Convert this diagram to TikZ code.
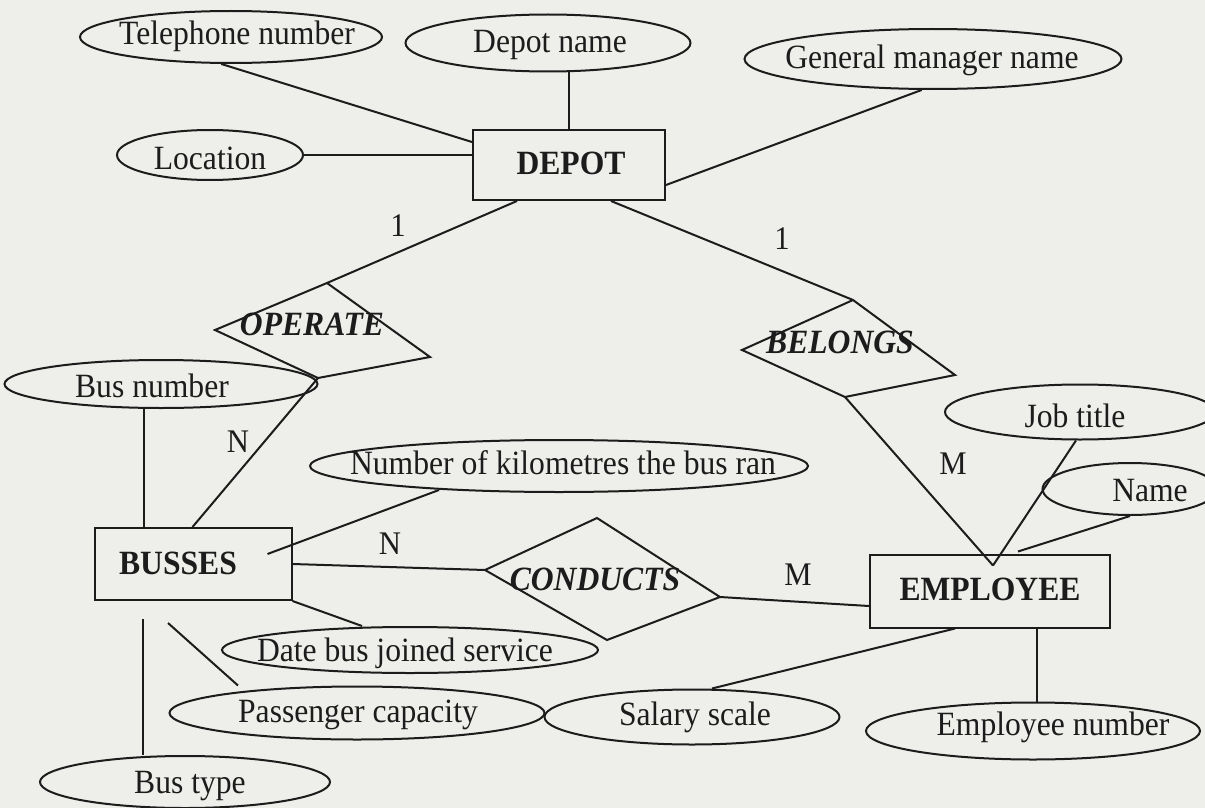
\documentclass[tikz,border=0pt]{standalone}
\usepackage{fontspec}
\setmainfont{Liberation Serif}[FakeStretch=0.93]
\usetikzlibrary{calc,shapes.geometric}
\definecolor{paper}{HTML}{EEEEEB}
\definecolor{ink}{HTML}{1C1C1C}
\begin{document}
\begin{tikzpicture}[x=1pt,y=-1pt,
  conn/.style={draw=ink, line width=2pt},
  attr/.style={draw=ink, ellipse, inner sep=0pt, line width=2pt},
  ent/.style={draw=ink, rectangle, inner sep=0pt, line width=2pt},
  txt/.style={inner sep=0pt, text=ink, font=\fontsize{34}{40}\selectfont},
  enttxt/.style={txt, font=\fontsize{34}{40}\selectfont\bfseries},
  reltxt/.style={txt, font=\fontsize{34}{40}\selectfont\bfseries\itshape},
  card/.style={txt, font=\fontsize{33}{39}\selectfont}]
\fill[paper] (0,0) rectangle (1205,808);
\useasboundingbox (0,0) rectangle (1205,808);

% ---------- attribute ellipses ----------
\node[attr, minimum width=302, minimum height=52] (tel) at (231,37) {};
\node[attr, minimum width=285, minimum height=57] (dep) at (548,43) {};
\node[attr, minimum width=377, minimum height=60] (gm) at (933,59) {};
\node[attr, minimum width=186, minimum height=50] (loc) at (210,155) {};
\node[attr, minimum width=313, minimum height=48] (busno) at (161,384) {};
\node[attr, minimum width=270, minimum height=55] (job) at (1080,412) {};
\node[attr, minimum width=175, minimum height=52] (name) at (1130,489) {};
\node[attr, minimum width=498, minimum height=52] (km) at (559,466) {};
\node[attr, minimum width=376, minimum height=46] (date) at (410,650) {};
\node[attr, minimum width=375, minimum height=53] (pass) at (357,713) {};
\node[attr, minimum width=295, minimum height=55] (sal) at (692,717) {};
\node[attr, minimum width=334, minimum height=57] (empno) at (1033,731) {};
\node[attr, minimum width=290, minimum height=52] (bustype) at (185,782) {};

% ---------- entities ----------
\node[ent, minimum width=192, minimum height=70] (depot) at (569,165) {};
\node[ent, minimum width=197, minimum height=72] (busses) at (193,564) {};
\node[ent, minimum width=240, minimum height=73] (employee) at (990,591) {};

% ---------- relationship diamonds ----------
\coordinate (opL) at (215,330); \coordinate (opT) at (327,283);
\coordinate (opR) at (430,357); \coordinate (opB) at (318,378);
\coordinate (beL) at (742,350); \coordinate (beT) at (853,300);
\coordinate (beR) at (955,375); \coordinate (beB) at (845,397);
\coordinate (coL) at (485,570); \coordinate (coT) at (597,518);
\coordinate (coR) at (720,597); \coordinate (coB) at (607,640);
\draw[conn] (opL) -- (opT) -- (opR) -- (opB) -- cycle;
\draw[conn] (beL) -- (beT) -- (beR) -- (beB) -- cycle;
\draw[conn] (coL) -- (coT) -- (coR) -- (coB) -- cycle;

% ---------- texts ----------
\node[txt] (t1) at (237,36) {Telephone number};
\node[txt] (t2) at (550,45) {Depot name};
\node[txt] (t3) at (932,60) {General manager name};
\node[txt] (t4) at (210,158) {Location};
\node[enttxt] (t5) at (571,163) {DEPOT};
\node[reltxt] (t6) at (312,324) {OPERATE};
\node[reltxt] (t7) at (840,342) {BELONGS};
\node[txt] (t8) at (152,386) {Bus number};
\node[txt] (t9) at (1075,416) {Job title};
\node[txt] (t10) at (1150,491) {Name};
\node[txt] (t11) at (563,463) {Number of kilometres the bus ran};
\node[enttxt] (t12) at (178,563) {BUSSES};
\node[reltxt] (t13) at (595,579) {CONDUCTS};
\node[enttxt] (t14) at (990,589) {EMPLOYEE};
\node[txt] (t15) at (405,653) {Date bus joined service};
\node[txt] (t16) at (358,715) {Passenger capacity};
\node[txt] (t17) at (695,717) {Salary scale};
\node[txt] (t18) at (1053,727) {Employee number};
\node[txt] (t19) at (190,786) {Bus type};

% ---------- cardinalities ----------
\node[card] (c1) at (398,226) {1};
\node[card] (c2) at (782,239) {1};
\node[card] (c3) at (238,442) {N};
\node[card] (c4) at (953,464) {M};
\node[card] (c5) at (390,544) {N};
\node[card] (c6) at (798,575) {M};

% ---------- connectors ----------
\draw[conn] (tel.250) -- ($(depot.north west)+(0,13)$);
\draw[conn] (depot.north) -- (depot.north |- dep.south);
\draw[conn] (loc.east) -- (loc.east -| depot.west);
\draw[conn] (gm.250) -- ($(depot.east)+(0,20)$);
\draw[conn] ($(depot.south west)+(45,0)$) -- (opT);
\draw[conn] ($(depot.south east)+(-55,0)$) -- (beT);

\coordinate (bnB) at ($(busses.north west)+(50,0)$);
\draw[conn] (bnB |- busno.south) -- (bnB);
\draw[conn] (opB) -- ($(busses.north east)+(-100,0)$);
\draw[conn] ($(km.south)+(-120,-3)$) -- ($(busses.east)+(-25,-10)$);
\draw[conn] (busses.east) -- (coL);
\draw[conn] (coR) -- ($(employee.west)+(0,15)$);

\coordinate (empJ) at ($(employee.north)+(3,12)$);
\draw[conn] (beB) -- (empJ);
\draw[conn] (job.262) -- (empJ);
\draw[conn] (name.south) -- ($(employee.north)+(28,-2)$);
\draw[conn] ($(employee.south)+(-35,0)$) -- ($(sal.north)+(20,0)$);
\coordinate (enT) at ($(employee.south)+(47,0)$);
\draw[conn] (enT) -- (enT |- empno.north);

\draw[conn] (busses.south east) -- ($(date.north)+(-48,0)$);
\draw[conn] ($(busses.south)+(-25,22)$) -- ($(pass.north)+(-119,0)$);
\coordinate (btT) at ($(busses.south)+(-50,18)$);
\draw[conn] (btT) -- (btT |- bustype.north);
\end{tikzpicture}
\end{document}
